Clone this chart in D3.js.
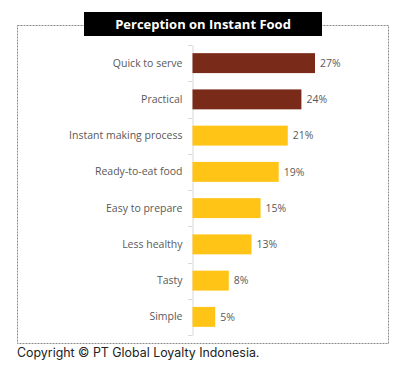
<!DOCTYPE html>
<html><head><meta charset="utf-8">
<script src="https://cdn.jsdelivr.net/npm/d3@7"></script>
<style>body{margin:0;background:#fff;}svg{display:block;}</style>
</head><body>
<svg id="c" width="409" height="367"></svg>
<script>
const categories = ["Quick to serve","Practical","Instant making process","Ready-to-eat food","Easy to prepare","Less healthy","Tasty","Simple"];
const values = [27,24,21,19,15,13,8,5];
const highlight = [true,true,false,false,false,false,false,false];
const title = "Perception on Instant Food";
const footer = "Copyright © PT Global Loyalty Indonesia.";

const svg = d3.select("#c");
// dashed frame
svg.append("rect").attr("x",17.5).attr("y",25.5).attr("width",371).attr("height",318)
  .attr("fill","none").attr("stroke","#8a8a8a").attr("stroke-width",1).attr("stroke-dasharray","2,1");

const y = d3.scaleBand().domain(categories).range([45,335]).paddingInner(0.45).paddingOuter(0.225);
const x = d3.scaleLinear().domain([0,27]).range([192.5,315]);

const g = svg.append("g");
const yAxis = d3.axisLeft(y).tickSize(0).tickPadding(10);
const ax = g.append("g").attr("transform","translate(192.5,0)").call(yAxis);
ax.select(".domain").attr("stroke","#d9d9d9");
ax.selectAll("text").attr("font-family","'Open Sans', sans-serif").attr("font-size","10.5px").attr("fill","#595959");
// band boundary ticks
const bounds = d3.range(categories.length+1).map(i=>y.range()[0]+i*y.step());
g.selectAll(".bt").data(bounds).join("line").attr("x1",188).attr("x2",192.5)
  .attr("y1",d=>Math.round(d)+0.5).attr("y2",d=>Math.round(d)+0.5).attr("stroke","#d9d9d9");

g.selectAll(".bar").data(categories).join("rect")
  .attr("x",x(0)).attr("y",d=>y(d)).attr("height",y.bandwidth())
  .attr("width",(d,i)=>x(values[i])-x(0))
  .attr("fill",(d,i)=>highlight[i]?"#7a2a18":"#ffc416");

g.selectAll(".lbl").data(categories).join("text")
  .attr("x",(d,i)=>x(values[i])+5).attr("y",d=>y(d)+y.bandwidth()/2).attr("dy","0.35em")
  .attr("font-family","'Open Sans', sans-serif").attr("font-size","10.5px").attr("fill","#595959")
  .text((d,i)=>values[i]+"%");

// title box
svg.append("rect").attr("x",84).attr("y",12).attr("width",238).attr("height",24).attr("fill","#000");
svg.append("text").attr("x",203).attr("y",24).attr("dy","0.35em").attr("text-anchor","middle")
  .attr("font-family","'Open Sans', sans-serif").attr("font-weight","bold").attr("font-size","13px")
  .attr("fill","#fff").text(title);

svg.append("text").attr("x",17).attr("y",357).attr("font-family","Inter, sans-serif")
  .attr("font-size","12.4px").attr("fill","#222").text(footer);
</script>
</body></html>
